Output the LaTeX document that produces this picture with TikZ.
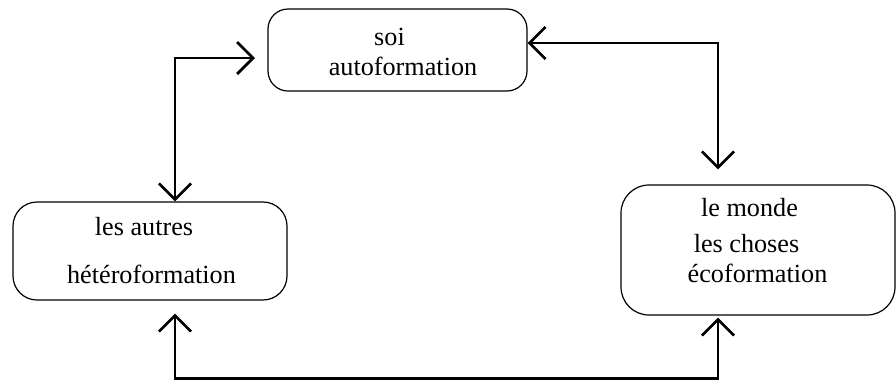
\documentclass[tikz,border=0pt]{standalone}
\usepackage{fontspec}
\setmainfont{Liberation Serif}
\usetikzlibrary{arrows.meta}

\tikzstyle{roundbox}=[
    draw,
    line width=0.6pt,
    inner sep=0pt,
  ]
\tikzstyle{boxtext}=[
    anchor=base,
    inner sep=0pt,
    font=\fontsize{13.1pt}{15pt}\selectfont,
  ]
\tikzstyle{link}=[
    {Straight Barb[length=8pt,width=16pt]}-{Straight Barb[length=8pt,width=16pt]},
    line width=1.35pt,
  ]

\begin{document}
\begin{tikzpicture}[x=0.5pt, y=-0.5pt]
      \useasboundingbox (0,0) rectangle (896,381);
      % the three boxes
      \node[roundbox, rounded corners=10pt, minimum width=129.5pt, minimum height=41pt] (auto) at (397.5,50) {};
      \node[roundbox, rounded corners=12pt, minimum width=137pt, minimum height=49pt] (hetero) at (150,251) {};
      \node[roundbox, rounded corners=14pt, minimum width=137pt, minimum height=65pt] (eco) at (758,250) {};
      % their texts
      \node[boxtext] (auto-1) at (389.5,45) {soi};
      \node[boxtext] (auto-2) at (403,75) {autoformation};
      \node[boxtext] (hetero-1) at (144,235) {les autres};
      \node[boxtext] (hetero-2) at (151.5,283) {hétéroformation};
      \node[boxtext] (eco-1) at (749.5,216) {le monde};
      \node[boxtext] (eco-2) at (746.5,252) {les choses};
      \node[boxtext] (eco-3) at (757.5,282) {écoformation};
      % free end in front of the top box
      \coordinate (auto-in) at (255,58);
      \draw[link] ([xshift=12.5pt]hetero.north) |- (auto-in);
      \draw[link] ([yshift=3.5pt]auto.east) -| ([xshift=-20pt,yshift=7.5pt]eco.north);
      \draw[link] ([xshift=12.5pt,yshift=-6.5pt]hetero.south) -- ++(0,65) -| ([xshift=-20pt,yshift=-1pt]eco.south);
    \end{tikzpicture}
\end{document}
